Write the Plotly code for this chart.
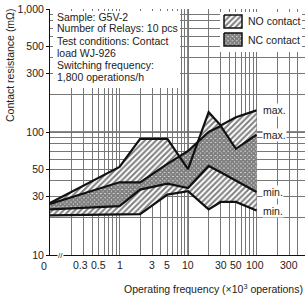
import math
import plotly.graph_objects as go

# ---- data (x in x10^3 operations, y in mOhm) ----
X_VALUES = [0, 1, 2, 5, 10, 20, 30, 50, 100]
NO_MAX = [26.5, 52, 88, 88, 50, 145, 113, 132, 150]
NO_MIN = [21, 21.5, 21.5, 31, 33, 23.5, 27, 27, 23]
NC_MAX = [26, 39, 39, 55, 70, 100, 112, 73, 95]
NC_MIN = [23.5, 25, 34, 38, 35, 53, 47, 40, 32.5]

X_TICK_VALS = [0.3, 0.5, 1, 3, 5, 10, 30, 50, 100, 300]
X_TICK_TEXT = ["0.3", "0.5", "1", "3", "5", "10", "30", "50", "100", "300"]
Y_TICK_VALS = [10, 30, 50, 100, 300, 500, 1000]
Y_TICK_TEXT = ["10", "30", "50", "100", "300", "500", "1,000"]
SERIES_NAMES = ["NO contact", "NC contact"]

INFO_LINES = ["Sample: G5V-2", "Number of Relays: 10 pcs", "Test conditions: Contact",
              "load WJ-926", "Switching frequency:", "1,800 operations/h"]

X_ZERO = 0.0967      # where "0" sits (axis break at the left edge)
FONT = "Liberation Sans, Arial, sans-serif"
TXT = "#222"
FS = 10.5
X_LABEL_SHIFT = {"0.3": -3, "100": -2}

NO_PATTERN = dict(shape="/", fgcolor="#000", bgcolor="white", size=4, solidity=0.5)
NC_PATTERN = dict(shape="x", fgcolor="#000", bgcolor="white", size=3, solidity=0.9)
PATTERNS = [NO_PATTERN, NC_PATTERN]

# plot-area geometry in pixels (for legend/text layout)
PL, PR, PT, PB = 50, 305, 9, 255
def px2x(px): return (px - PL) / (PR - PL)
def py2y(py): return (PB - py) / (PB - PT)

xp = [X_ZERO if v == 0 else v for v in X_VALUES]

def poly(top, bot):
    return xp + xp[::-1], list(top) + list(bot)[::-1]

fig = go.Figure()

nx, ny = poly(NO_MAX, NO_MIN)
fig.add_trace(go.Scatter(x=nx, y=ny, mode="lines", fill="toself", fillcolor="white",
                         fillpattern=NO_PATTERN, line=dict(width=0), showlegend=False, hoverinfo="skip"))
cx, cy = poly(NC_MAX, NC_MIN)
fig.add_trace(go.Scatter(x=cx, y=cy, mode="lines", fill="toself", fillcolor="white",
                         fillpattern=NC_PATTERN, line=dict(width=0), showlegend=False, hoverinfo="skip"))

for ys in (NO_MAX, NO_MIN, NC_MAX, NC_MIN):
    fig.add_trace(go.Scatter(x=xp, y=ys, mode="lines", line=dict(color="#111", width=2.2),
                             showlegend=False, hoverinfo="skip"))

# ---- hand-made legend on an overlay (paper-like) axis pair ----
def rect(x0, y0, x1, y1):
    return [px2x(x0), px2x(x1), px2x(x1), px2x(x0), px2x(x0)], [py2y(y0), py2y(y0), py2y(y1), py2y(y1), py2y(y0)]

bx, by = rect(220, 12, 302, 52)
fig.add_trace(go.Scatter(x=bx, y=by, xaxis="x2", yaxis="y2", mode="lines", fill="toself",
                         fillcolor="white", line=dict(width=0), showlegend=False, hoverinfo="skip"))
legend_ann = []
for i, (name, pat) in enumerate(zip(SERIES_NAMES, PATTERNS)):
    top = 15 + 18 * i
    sx, sy = rect(224, top, 242, top + 13)
    fig.add_trace(go.Scatter(x=sx, y=sy, xaxis="x2", yaxis="y2", mode="lines", fill="toself",
                             fillcolor="white", fillpattern=pat, line=dict(color="#111", width=1.5),
                             showlegend=False, hoverinfo="skip"))
    legend_ann.append(dict(text=name, xref="paper", yref="paper", x=px2x(246), y=py2y(top + 6.5),
                           xanchor="left", yanchor="middle", showarrow=False,
                           font=dict(family=FONT, size=FS, color=TXT)))

minor_x = [d * m for d in (0.1, 1, 10, 100) for m in range(2, 10)]
minor_y = [d * m for d in (10, 100) for m in range(2, 10)]

fig.update_xaxes(type="log", range=[-1.0146, 2.7076], tickvals=X_TICK_VALS, showticklabels=False,
                 automargin=False,
                 showgrid=True, gridcolor="#777", gridwidth=1,
                 minor=dict(tickvals=minor_x, showgrid=True, gridcolor="#777", gridwidth=1),
                 showline=True, linecolor="#111", linewidth=1, ticks="", zeroline=False)
fig.update_yaxes(type="log", range=[1, 3], tickvals=Y_TICK_VALS, ticktext=Y_TICK_TEXT,
                 automargin=False,
                 showgrid=True, gridcolor="#777", gridwidth=1,
                 minor=dict(tickvals=minor_y, showgrid=True, gridcolor="#777", gridwidth=1),
                 showline=True, linecolor="#111", linewidth=1, ticks="outside", ticklen=3,
                 tickcolor="#111", zeroline=False,
                 tickfont=dict(family=FONT, size=FS, color=TXT))
fig.update_layout(
    xaxis2=dict(overlaying="x", range=[0, 1], visible=False, fixedrange=True),
    yaxis2=dict(overlaying="y", range=[0, 1], visible=False, fixedrange=True),
)

shapes = []
for d in (1, 10, 100):
    shapes.append(dict(type="line", xref="x", yref="paper", x0=d, x1=d, y0=0, y1=1,
                       line=dict(color="#111", width=1), layer="below"))
shapes.append(dict(type="line", xref="paper", yref="y", x0=0, x1=1, y0=100, y1=100,
                   line=dict(color="#111", width=1), layer="below"))
# white panel behind the info text
shapes.append(dict(type="rect", xref="paper", yref="paper", x0=px2x(53), x1=px2x(180),
                   y0=py2y(88), y1=py2y(11), fillcolor="white", line=dict(width=0), layer="above"))
fig.update_layout(shapes=shapes)

ann = list(legend_ann)
for i, line in enumerate(INFO_LINES):
    ann.append(dict(text=line, xref="paper", yref="paper", x=px2x(54.5), y=py2y(16.5 + 12 * i),
                    xanchor="left", yanchor="middle", showarrow=False,
                    font=dict(family=FONT, size=FS, color=TXT)))
for v, t in zip(X_TICK_VALS, X_TICK_TEXT):
    ann.append(dict(text=t, xref="x", yref="paper", x=math.log10(v), y=0, xanchor="center",
                    yanchor="top", yshift=-2, xshift=X_LABEL_SHIFT.get(t, 0), showarrow=False,
                    font=dict(family=FONT, size=FS, color=TXT)))
for lbl, ys in (("max.", NO_MAX), ("max.", NC_MAX), ("min.", NC_MIN), ("min.", NO_MIN)):
    ann.append(dict(text=lbl, x=math.log10(X_VALUES[-1]), y=math.log10(ys[-1]),
                    xref="x", yref="y", xanchor="left", yanchor="middle", xshift=5,
                    showarrow=False, bgcolor="white", borderpad=0,
                    font=dict(family=FONT, size=FS, color=TXT)))
ann.append(dict(text="0", xref="paper", yref="paper", x=0, y=0, xanchor="center", yanchor="top",
                xshift=-6, yshift=-3, showarrow=False, font=dict(family=FONT, size=FS, color=TXT)))
ann.append(dict(text="//", xref="paper", yref="paper", x=px2x(60), y=0, xanchor="center", yanchor="middle",
                showarrow=False, bgcolor="white", borderpad=0, font=dict(family=FONT, size=8, color=TXT)))
ann.append(dict(text="Contact resistance (mΩ)", xref="paper", yref="paper", x=px2x(10), y=py2y(66),
                xanchor="center", yanchor="middle", textangle=-90, showarrow=False,
                font=dict(family=FONT, size=FS, color=TXT)))
ann.append(dict(text="Operating frequency (×10<sup>3</sup> operations)", xref="paper", yref="paper",
                x=1, y=py2y(288), xanchor="right", yanchor="middle", showarrow=False,
                font=dict(family=FONT, size=FS, color=TXT)))

fig.update_layout(
    width=305, height=297, margin=dict(l=PL, r=305 - PR, t=PT, b=297 - PB, autoexpand=False),
    paper_bgcolor="white", plot_bgcolor="white",
    annotations=ann, showlegend=False,
)

fig.write_html("out.html", config={"displayModeBar": False, "staticPlot": True},
               post_script="document.body.style.margin='0';document.body.style.overflow='hidden';")
